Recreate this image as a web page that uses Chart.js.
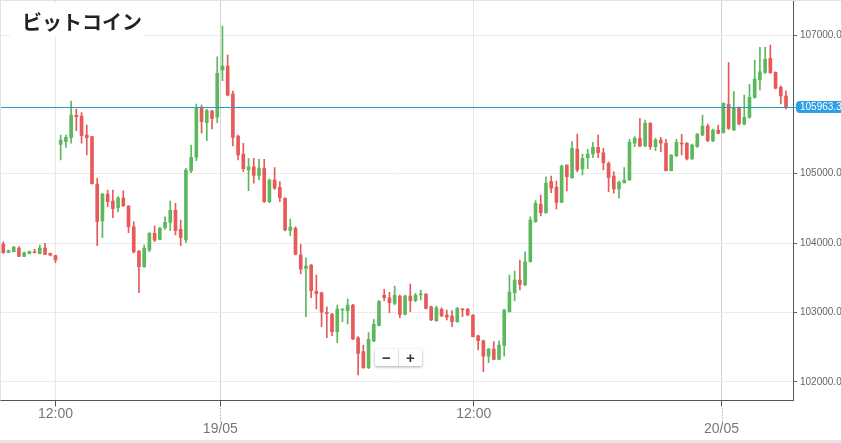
<!DOCTYPE html>
<html>
<head>
<meta charset="utf-8">
<script src="https://cdn.jsdelivr.net/npm/chart.js@4.4.1/dist/chart.umd.min.js"></script>
<style>
html, body { margin: 0; padding: 0; background: #e6e6e6; }
#wrap { position: relative; width: 841px; height: 440px; background: #fff; }
#zoom { position: absolute; left: 375px; top: 349px; width: 47px; height: 17px; background: #fff;
  border-radius: 2px; box-shadow: 0 1px 3px rgba(0,0,0,.35); display: flex;
  font: bold 15px 'Liberation Sans', Arial, sans-serif; color: #333; }
#zoom span { flex: 1; text-align: center; line-height: 17px; }
#zoom span + span { border-left: 1px solid #ddd; }
</style>
</head>
<body>
<div id="wrap">
  <canvas id="c" width="841" height="440"></canvas>
  <div id="zoom"><span>−</span><span>+</span></div>
</div>
<script>
// 15分足 (candle index 0..150)
const opens = [103986,103867,103875,103929,103809,103852,103875,103847,103929,103852,103818,105424,105462,105519,105842,105832,105558,105534,104852,104318,104708,104607,104510,104650,104534,104236,103886,103659,103900,104141,104054,104222,104299,104472,104198,104044,105044,105237,105943,105736,105904,105814,106496,106553,106150,105544,105284,105054,105101,104974,105078,104596,104909,104804,104646,104184,104213,103828,103636,103684,103304,103284,102996,102973,102722,103035,103025,103107,102635,102434,102203,102588,102808,103251,103212,103131,103237,102973,103237,103169,103255,103266,103082,102881,103045,102963,102948,102866,103045,103045,102963,102664,102592,102371,102472,102324,102526,103010,103284,103467,103395,103731,104308,104559,104438,104885,104804,104588,105126,104943,105356,105068,105231,105284,105381,105303,105150,104967,104780,104870,104909,105439,105511,105400,105727,105390,105486,105439,105044,105256,105439,105439,105212,105390,105558,105688,105472,105630,105591,106005,105630,105943,105713,105814,106102,106351,106462,106664,106462,106246,106121];
const highs = [104019,103900,103948,103948,103871,103886,103910,103972,103997,103857,103828,105558,105558,106049,105933,105880,105702,105540,104934,104718,104765,104765,104669,104755,104540,104308,103890,103972,104150,104246,104227,104380,104607,104573,104333,105078,105414,106005,105991,105929,105919,106687,107130,106712,106193,105558,105439,105222,105222,105208,105208,104924,105087,104885,104655,104347,104236,103982,103789,103690,103540,103294,103082,102987,103107,103052,103193,103115,102650,102530,102708,102901,103170,103333,103290,103381,103251,103251,103410,103276,103323,103270,103092,103092,103068,103035,103025,103074,103059,103059,102968,102674,102602,102482,102578,102592,103049,103540,103597,103756,103875,104380,104611,104693,104957,104967,104895,105126,105130,105462,105573,105284,105352,105453,105558,105367,105173,105029,104895,105087,105496,105534,105799,105775,105736,105511,105525,105496,105275,105496,105568,105448,105428,105583,105847,105717,105645,105702,106024,106601,106183,105966,106135,106289,106640,106823,106823,106856,106471,106269,106197];
const lows = [103852,103857,103871,103803,103803,103842,103857,103842,103832,103813,103717,105198,105381,105439,105620,105439,105270,104850,103962,104077,104524,104366,104452,104524,104150,103857,103284,103650,103875,104020,104044,104198,104178,104116,103962,104005,105015,105188,105583,105476,105645,105736,106341,106121,105400,105198,105029,104755,104862,104909,104588,104582,104775,104596,104174,104102,103828,103554,102938,103212,103049,102794,102635,102664,102563,102866,102833,102607,102098,102194,102188,102578,102804,103169,102996,103107,102924,102963,103010,103155,103179,103049,102880,102872,102938,102891,102794,102857,102938,102953,102645,102458,102145,102275,102318,102318,102371,103002,103169,103323,103385,103723,104299,104390,104429,104726,104491,104582,104751,104934,105029,104982,105072,105231,105231,105054,104741,104718,104646,104862,104905,105390,105390,105390,105352,105332,105318,105040,105040,105246,105270,105198,105208,105381,105548,105462,105462,105573,105583,105640,105620,105702,105702,105799,106088,106207,106448,106448,106222,106005,105933];
const closes = [103861,103890,103943,103809,103861,103881,103861,103929,103838,103824,103756,105486,105525,105847,105822,105548,105519,104856,104308,104708,104596,104495,104650,104539,104236,103871,103659,103924,104141,104044,104213,104299,104472,104178,104083,105054,105237,105958,105750,105909,105793,106448,106553,106131,105525,105270,105072,105101,104977,105082,104596,104909,104790,104654,104188,104232,103838,103622,103669,103313,103270,103002,102981,102722,103049,103049,103107,102617,102410,102203,102612,102829,103160,103212,103140,103248,102973,103237,103169,103251,103266,103059,102891,103068,102948,102930,102866,103059,103035,102963,102650,102592,102371,102472,102324,102530,103035,103294,103467,103405,103731,104333,104573,104438,104862,104790,104588,105111,104957,105367,105054,105222,105284,105381,105303,105159,104943,104780,104876,104909,105453,105511,105400,105727,105390,105486,105439,105044,105270,105453,105429,105212,105414,105568,105688,105476,105630,105583,106015,105655,105943,105717,105814,106102,106366,106471,106650,106457,106232,106121,105963.3];

const xTickPos = [10, 41.6, 90.15, 137.65];
const xTickLabels = ['12:00', '19/05', '12:00', '20/05'];
const isDateTick = [false, true, false, true];
const yTicks = [102000, 103000, 104000, 105000, 107000];
const lastPrice = 105963.3;
const title = 'ビットコイン';

const UP = '#5cb85c', DOWN = '#e85a5a', PRICE = '#20a0c0', TAG = '#2f9fe3';
const colors = opens.map((o, i) => closes[i] >= o ? UP : DOWN);

const decor = {
  id: 'decor',
  afterDatasetsDraw(chart) {
    const { ctx, chartArea: a, scales: { y } } = chart;
    const py = Math.round(y.getPixelForValue(lastPrice)) + 0.5;
    ctx.save();
    ctx.strokeStyle = PRICE;
    ctx.lineWidth = 1.2;
    ctx.beginPath();
    ctx.moveTo(a.left, py);
    ctx.lineTo(a.right + 4, py);
    ctx.stroke();
    ctx.restore();
  },
  afterDraw(chart) {
    const { ctx, chartArea: a, scales: { x, y } } = chart;
    ctx.save();
    // frame
    ctx.strokeStyle = '#e2e2e2';
    ctx.beginPath();
    ctx.moveTo(0, 0.5); ctx.lineTo(chart.width, 0.5);
    ctx.moveTo(0.5, 0); ctx.lineTo(0.5, a.bottom);
    ctx.stroke();
    // price tag
    const py = Math.round(y.getPixelForValue(lastPrice));
    const l = a.right + 3, t = py - 6, h = 12, r = 4;
    ctx.fillStyle = TAG;
    ctx.beginPath();
    ctx.moveTo(l + r, t); ctx.lineTo(chart.width + 5, t); ctx.lineTo(chart.width + 5, t + h);
    ctx.lineTo(l + r, t + h); ctx.arcTo(l, t + h, l, t + h - r, r);
    ctx.lineTo(l, t + r); ctx.arcTo(l, t, l + r, t, r);
    ctx.fill();
    ctx.fillStyle = '#fff';
    ctx.font = "10px 'Liberation Sans', Arial, sans-serif";
    ctx.textBaseline = 'middle';
    ctx.textAlign = 'left';
    ctx.fillText(lastPrice.toFixed(1), a.right + 7, py + 0.5);
    // dotted lines under date labels
    ctx.strokeStyle = '#888';
    ctx.setLineDash([1, 2]);
    xTickPos.forEach((v, i) => {
      if (!isDateTick[i]) return;
      const px = Math.round(x.getPixelForValue(v)) + 0.5;
      ctx.beginPath();
      ctx.moveTo(px, a.bottom + 8);
      ctx.lineTo(px, a.bottom + 21);
      ctx.stroke();
    });
    ctx.setLineDash([]);
    // title
    ctx.fillStyle = '#fff';
    ctx.fillRect(10, 3, 134, 34);
    ctx.fillStyle = '#222';
    ctx.font = "bold 20px 'Noto Sans CJK JP', sans-serif";
    ctx.textBaseline = 'middle';
    ctx.fillText(title, 22, 22);
    ctx.restore();
  }
};

new Chart(document.getElementById('c'), {
  type: 'bar',
  data: {
    datasets: [
      {
        label: 'body',
        data: opens.map((o, i) => ({ x: i, y: [o, closes[i]] })),
        backgroundColor: colors,
        barThickness: 3,
        minBarLength: 1,
        grouped: false
      },
      {
        label: 'wick',
        data: highs.map((hi, i) => ({ x: i, y: [lows[i], hi] })),
        backgroundColor: colors,
        barThickness: 1,
        grouped: false
      }
    ]
  },
  options: {
    responsive: false,
    animation: false,
    events: [],
    layout: { padding: 0 },
    plugins: { legend: { display: false }, tooltip: { enabled: false } },
    scales: {
      x: {
        type: 'linear',
        min: -0.63,
        max: 151.34,
        offset: false,
        afterBuildTicks: s => { s.ticks = xTickPos.map(v => ({ value: v })); },
        afterFit: s => { s.height = 39.5; s.paddingLeft = 0; s.paddingRight = 0; },
        grid: {
          offset: false,
          color: ctx => isDateTick[ctx.index] ? '#d4d4d4' : '#e8e8e8',
          tickLength: 6,
          tickColor: '#555'
        },
        border: { color: '#555' },
        ticks: {
          color: '#777',
          padding: 0,
          maxRotation: 0,
          autoSkip: false,
          font: { family: "'Liberation Sans Narrow', 'Arial Narrow', 'Liberation Sans', sans-serif", size: 14, lineHeight: 1.1 },
          callback: (v, i) => isDateTick[i] ? ['', xTickLabels[i]] : xTickLabels[i]
        }
      },
      y: {
        position: 'right',
        min: 101730,
        max: 107505,
        afterBuildTicks: s => { s.ticks = yTicks.map(v => ({ value: v })); },
        afterFit: s => { s.width = 48; s.paddingTop = 0; s.paddingBottom = 0; },
        grid: { color: '#ececec', tickLength: 4, tickColor: '#666' },
        border: { color: '#555' },
        ticks: {
          color: '#666',
          padding: 3,
          font: { family: "'Liberation Sans', Arial, sans-serif", size: 10 },
          callback: v => v.toFixed(1)
        }
      }
    }
  },
  plugins: [decor]
});
</script>
</body>
</html>
